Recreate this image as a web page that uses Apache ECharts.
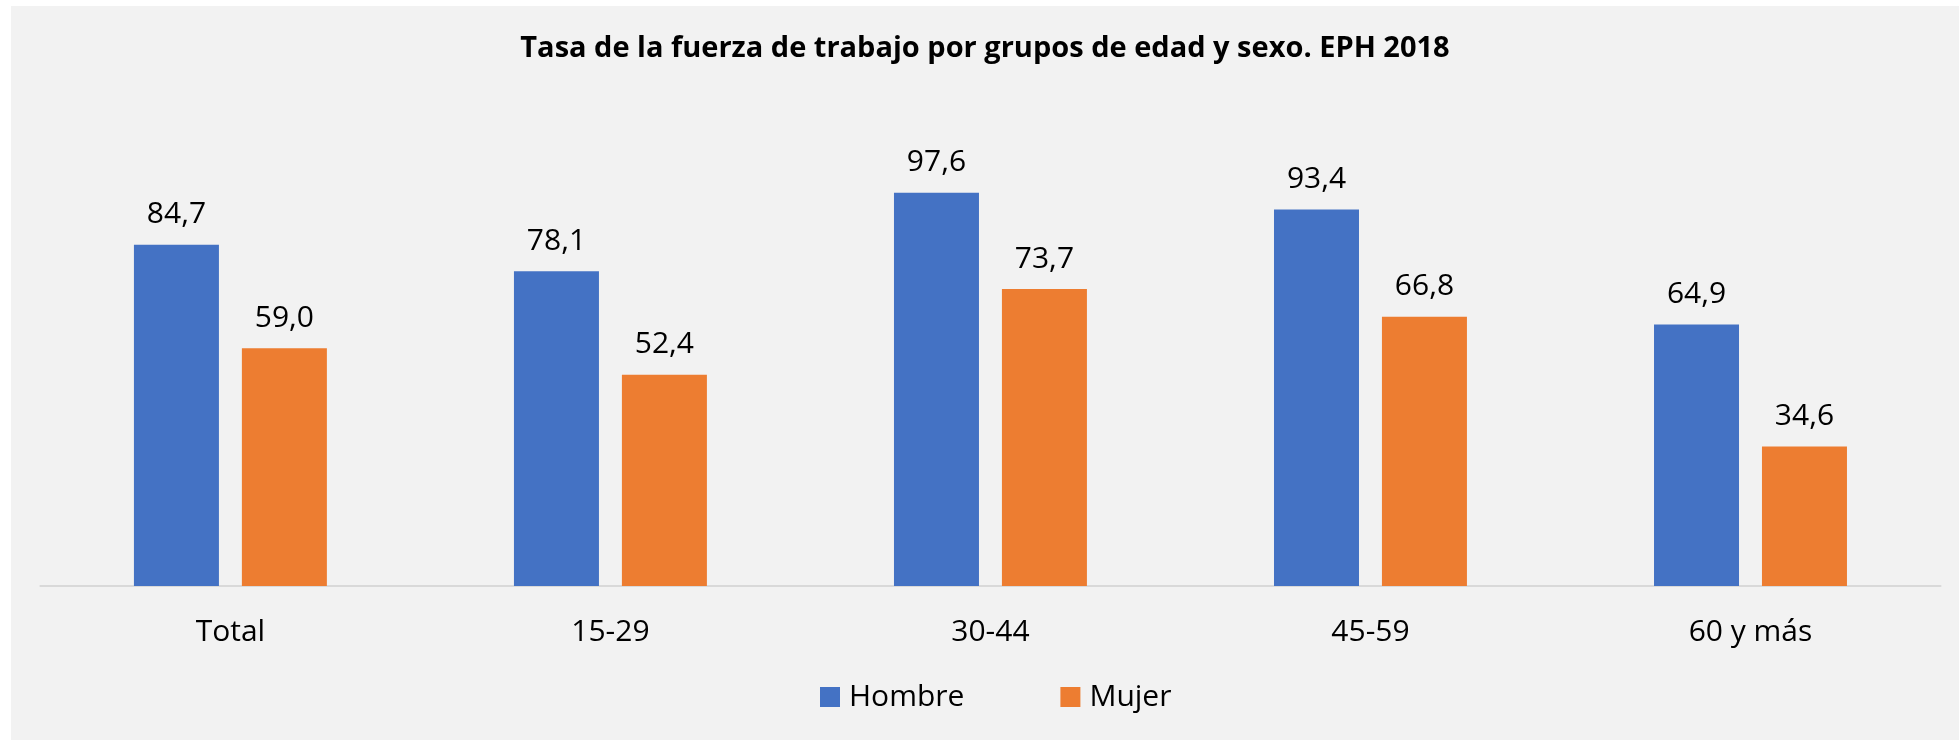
<!DOCTYPE html>
<html>
<head>
<meta charset="utf-8">
<script src="https://cdn.jsdelivr.net/npm/echarts@6/dist/echarts.min.js"></script>
<style>
  html, body { margin: 0; padding: 0; background: #ffffff; width: 1959px; height: 740px; overflow: hidden; }
  #frame { position: absolute; left: 11px; top: 6px; width: 1948px; height: 734px; background: #f2f2f2; }
  #chart { width: 1948px; height: 734px; }
</style>
</head>
<body>
<div id="frame"><div id="chart"></div></div>
<script>
const titleText = 'Tasa de la fuerza de trabajo por grupos de edad y sexo. EPH 2018';
const categories = ['Total', '15-29', '30-44', '45-59', '60 y más'];
const seriesNames = ['Hombre', 'Mujer'];
const hombre = [84.7, 78.1, 97.6, 93.4, 64.9];
const mujer = [59.0, 52.4, 73.7, 66.8, 34.6];

const font = "'Open Sans', 'Noto Sans', sans-serif";
const fmt = p => p.value.toFixed(1).replace('.', ',');

const chart = echarts.init(document.getElementById('chart'), null, { renderer: 'canvas' });
chart.setOption({
  backgroundColor: '#f2f2f2',
  animation: false,
  title: {
    text: titleText,
    left: 'center',
    top: 23,
    textStyle: { fontFamily: font, fontWeight: 'bold', fontSize: 29, lineHeight: 29, color: '#000000' }
  },
  legend: {
    data: seriesNames,
    left: 804,
    top: 671,
    itemWidth: 20,
    itemHeight: 20,
    itemGap: 96,
    icon: 'rect',
    textStyle: { fontFamily: font, fontSize: 30, lineHeight: 30, color: '#000000', padding: [0, 0, 0, 4] }
  },
  grid: { left: 29.4, right: 18.5, top: 96.4, bottom: 154, containLabel: false },
  xAxis: {
    type: 'category',
    data: categories,
    axisLine: { show: true, lineStyle: { color: '#d9d9d9', width: 2 } },
    axisTick: { show: false },
    axisLabel: { fontFamily: font, fontSize: 30, lineHeight: 30, color: '#000000', margin: 31 }
  },
  yAxis: {
    type: 'value',
    min: 0, max: 120, interval: 20,
    show: false,
    splitLine: { show: false }
  },
  series: [
    {
      name: seriesNames[0], type: 'bar', data: hombre, barWidth: 85, barGap: '27%',
      itemStyle: { color: '#4472c4' },
      label: { show: true, position: 'top', distance: 15, formatter: fmt, fontFamily: font, fontSize: 30, lineHeight: 30, color: '#000000' }
    },
    {
      name: seriesNames[1], type: 'bar', data: mujer, barWidth: 85, barGap: '27%',
      itemStyle: { color: '#ed7d31' },
      label: { show: true, position: 'top', distance: 15, formatter: fmt, fontFamily: font, fontSize: 30, lineHeight: 30, color: '#000000' }
    }
  ]
});
</script>
</body>
</html>
